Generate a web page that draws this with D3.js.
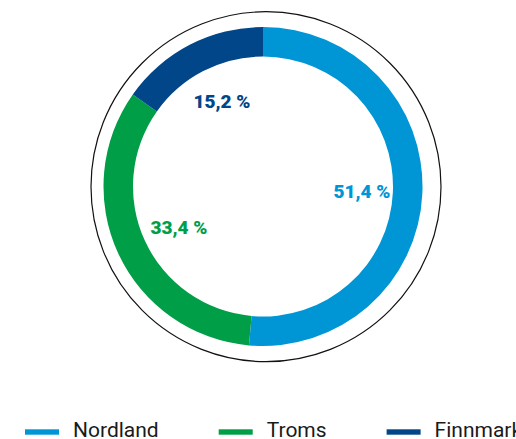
<!DOCTYPE html>
<html>
<head>
<meta charset="utf-8">
<script src="https://cdn.jsdelivr.net/npm/d3@7/dist/d3.min.js"></script>
<style>
  html, body { margin: 0; padding: 0; background: #fff; }
  svg { display: block; }
</style>
</head>
<body>
<script>
// Share of total by county
const categories = ["Nordland", "Troms", "Finnmark"];
const values = [51.4, 33.4, 15.2];
const colors = ["#0096d6", "#009e47", "#004688"];

const width = 516, height = 439;
const cx = 263, cy = 186.5;
const outerR = 159.5, innerR = 130;

const svg = d3.select("body").append("svg")
  .attr("width", width).attr("height", height);

// thin frame ring around the donut
svg.append("circle")
  .attr("cx", 266).attr("cy", 186.7).attr("r", 175)
  .attr("fill", "none").attr("stroke", "#111").attr("stroke-width", 1.2);

const pie = d3.pie().sort(null).value(d => d.value);
const data = categories.map((c, i) => ({ name: c, value: values[i], color: colors[i] }));
const arcs = pie(data);

const arc = d3.arc().innerRadius(innerR).outerRadius(outerR);
const labelArc = d3.arc().innerRadius(96).outerRadius(96);

const g = svg.append("g").attr("transform", `translate(${cx},${cy})`);

g.selectAll("path.slice").data(arcs).enter().append("path")
  .attr("class", "slice")
  .attr("d", arc)
  .attr("fill", d => d.data.color);

const fmt = v => v.toFixed(1).replace(".", ",") + " %";

// percentage labels sit inside the hole, slightly right of the slice centroid
g.selectAll("text.pct").data(arcs).enter().append("text")
  .attr("class", "pct")
  .attr("transform", d => { const [x, y] = labelArc.centroid(d); return `translate(${x + 3},${y})`; })
  .attr("text-anchor", "middle")
  .attr("dy", "0.36em")
  .attr("font-family", "Roboto, 'Liberation Sans', sans-serif")
  .attr("font-weight", 900)
  .attr("font-size", 19)
  .attr("fill", d => d.data.color)
  .text(d => fmt(d.data.value));

// legend along the bottom
const legend = svg.append("g").attr("transform", "translate(25,432)");
let x = 0;
data.forEach(d => {
  const item = legend.append("g").attr("transform", `translate(${x},0)`);
  item.append("rect")
    .attr("x", 0).attr("y", -2.7).attr("width", 34).attr("height", 5.4)
    .attr("fill", d.color);
  const t = item.append("text")
    .attr("x", 48).attr("y", 5)
    .attr("font-family", "Roboto, 'Liberation Sans', sans-serif")
    .attr("font-size", 21)
    .attr("fill", "#1a1a1a")
    .text(d.name);
  x += 48 + t.node().getComputedTextLength() + 60;
});
</script>
</body>
</html>
